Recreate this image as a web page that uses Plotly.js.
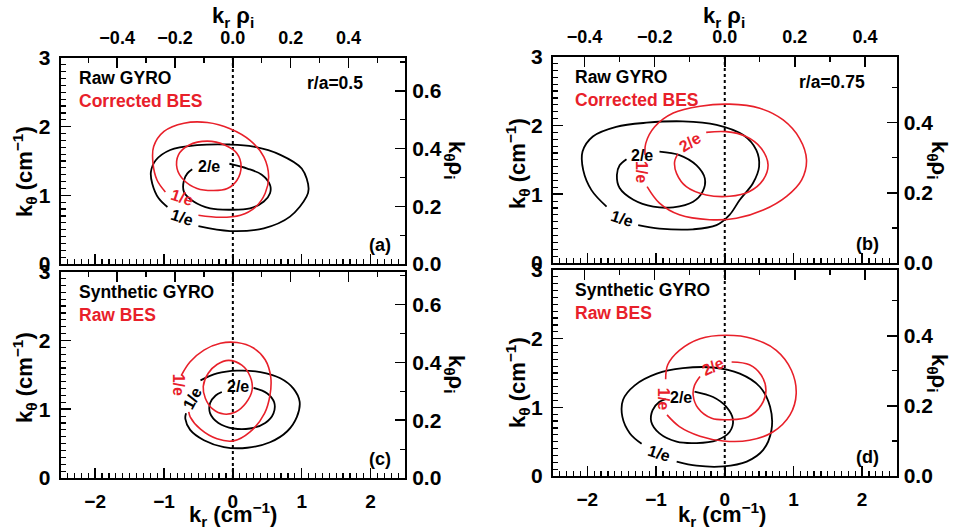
<!DOCTYPE html>
<html>
<head>
<meta charset="utf-8">
<script src="https://cdn.plot.ly/plotly-3.0.1.min.js"></script>
<style>
html,body{margin:0;padding:0;background:#fff;}
#chart{width:953px;height:531px;}
#chart text, #chart tspan{font-weight:bold !important;}
</style>
</head>
<body>
<div id="chart"></div>
<script>
// ---------------- data ----------------
// kr, ktheta in cm^-1
// Panel (a): r/a = 0.5, Raw GYRO (black) vs Corrected BES (red)
const a_gyro1_x = [-0.50,-0.04,0.45,0.83,1.07,1.10,1.00,0.69,0.30,-0.04,-0.52,-0.91,-1.12,-1.19,-1.17,-1.08,-0.95];
const a_gyro1_y = [0.55,0.48,0.52,0.69,0.98,1.10,1.39,1.59,1.71,1.74,1.73,1.66,1.51,1.34,1.17,0.96,0.83];
const a_gyro2_x = [-0.05,0.21,0.42,0.54,0.54,0.45,0.25,-0.04,-0.33,-0.57,-0.71,-0.71,-0.66,-0.59];
const a_gyro2_y = [1.46,1.39,1.30,1.15,1.03,0.91,0.81,0.79,0.81,0.91,1.05,1.22,1.32,1.38];
const a_bes1_x = [-0.50,-0.18,0.11,0.33,0.47,0.52,0.45,0.25,-0.04,-0.37,-0.71,-1.00,-1.15,-1.16,-1.10,-0.98];
const a_bes1_y = [0.71,0.68,0.71,0.83,1.03,1.27,1.56,1.80,1.97,2.06,2.05,1.93,1.71,1.47,1.22,1.05];
const a_bes2_x = [-0.37,-0.11,0.06,0.12,0.06,-0.08,-0.28,-0.52,-0.71,-0.81,-0.79,-0.64,-0.37];
const a_bes2_y = [1.79,1.73,1.61,1.42,1.22,1.10,1.07,1.10,1.22,1.39,1.59,1.73,1.79];

// Panel (b): r/a = 0.75
const b_gyro1_x = [-1.26,-0.95,-0.46,-0.12,0.07,0.22,0.41,0.50,0.46,0.27,-0.12,-0.61,-1.14,-1.58,-1.92,-2.07,-2.06,-1.94,-1.72];
const b_gyro1_y = [0.55,0.50,0.49,0.55,0.70,0.92,1.16,1.40,1.64,1.86,2.01,2.06,2.04,1.98,1.84,1.62,1.35,1.06,0.82];
const b_gyro2_x = [-0.95,-0.66,-0.41,-0.29,-0.32,-0.46,-0.75,-1.04,-1.33,-1.53,-1.57,-1.53,-1.43];
const b_gyro2_y = [1.62,1.57,1.42,1.23,1.04,0.89,0.81,0.82,0.92,1.09,1.28,1.42,1.51];
const b_bes1_x = [-1.13,-0.95,-0.66,-0.22,0.17,0.56,0.90,1.12,1.19,1.09,0.85,0.51,0.07,-0.36,-0.75,-1.02,-1.15,-1.16];
const b_bes1_y = [1.11,0.87,0.70,0.63,0.65,0.77,0.97,1.21,1.50,1.81,2.08,2.25,2.31,2.28,2.18,1.98,1.74,1.57];
const b_bes2_x = [-0.27,0.02,0.31,0.53,0.63,0.56,0.36,0.07,-0.27,-0.56,-0.70,-0.73,-0.68];
const b_bes2_y = [1.90,1.91,1.84,1.67,1.43,1.21,1.04,0.97,0.99,1.11,1.30,1.47,1.59];

// Panel (c): Synthetic GYRO (black) vs Raw BES (red), r/a = 0.5
const c_gyro1_x = [-0.47,-0.23,0.06,0.40,0.69,0.88,0.97,0.93,0.79,0.54,0.21,-0.13,-0.42,-0.62,-0.69,-0.68];
const c_gyro1_y = [1.42,1.52,1.56,1.54,1.45,1.30,1.11,0.89,0.68,0.52,0.44,0.45,0.55,0.70,0.86,0.94];
const c_gyro2_x = [0.30,0.50,0.60,0.59,0.47,0.25,0.01,-0.21,-0.33,-0.33,-0.25,-0.16];
const c_gyro2_y = [1.31,1.23,1.10,0.94,0.80,0.72,0.72,0.80,0.94,1.09,1.20,1.25];
const c_bes1_x = [-0.75,-0.62,-0.42,-0.18,0.06,0.30,0.47,0.55,0.54,0.46,0.25,0.01,-0.23,-0.47,-0.62,-0.64];
const c_bes1_y = [1.49,1.69,1.86,1.96,1.97,1.89,1.72,1.47,1.21,0.94,0.67,0.54,0.57,0.71,0.89,0.96];
const c_bes2_x = [-0.06,0.13,0.25,0.28,0.19,0.04,-0.13,-0.29,-0.40,-0.43,-0.36,-0.23,-0.06];
const c_bes2_y = [1.71,1.64,1.48,1.28,1.09,0.96,0.93,1.00,1.16,1.33,1.52,1.65,1.71];

// Panel (d): r/a = 0.75
const d_gyro1_x = [-0.70,-0.41,-0.02,0.32,0.56,0.68,0.66,0.51,0.22,-0.17,-0.61,-0.99,-1.31,-1.48,-1.49,-1.38,-1.21];
const d_gyro1_y = [0.21,0.15,0.14,0.21,0.38,0.67,1.01,1.30,1.49,1.58,1.57,1.49,1.32,1.11,0.86,0.62,0.47];
const d_gyro2_x = [-0.44,-0.17,0.02,0.12,0.07,-0.12,-0.41,-0.70,-0.95,-1.07,-1.05,-0.95,-0.86];
const d_gyro2_y = [1.23,1.15,1.01,0.82,0.64,0.52,0.48,0.50,0.62,0.79,0.96,1.08,1.12];
const d_bes1_x = [-0.84,-0.66,-0.36,-0.02,0.36,0.70,0.95,1.04,0.97,0.75,0.41,0.02,-0.36,-0.66,-0.83,-0.86];
const d_bes1_y = [0.89,0.72,0.58,0.51,0.52,0.64,0.89,1.20,1.54,1.83,2.00,2.05,2.00,1.83,1.62,1.41];
const d_bes2_x = [0.10,0.36,0.53,0.60,0.53,0.34,0.07,-0.19,-0.39,-0.46,-0.44,-0.36];
const d_bes2_y = [1.66,1.62,1.47,1.25,1.03,0.86,0.82,0.84,0.99,1.18,1.32,1.45];

// rho_i (cm) used for secondary axes
const rho_values = [0.238, 0.196, 0.238, 0.196];

// contour labels: text, x, y (data coords)
const a_lab_text = ['2/e','1/e','1/e'];
const a_lab_x = [-0.35,-0.74,-0.74];
const a_lab_y = [1.42,0.97,0.68];
const b_lab_text = ['2/e','1/e','1/e','2/e'];
const b_lab_x = [-1.21,-1.50,-1.21,-0.51];
const b_lab_y = [1.57,0.65,1.33,1.75];
const c_lab_text = ['2/e','1/e','1/e'];
const c_lab_x = [0.08,-0.59,-0.79];
const c_lab_y = [1.33,1.16,1.35];
const d_lab_text = ['2/e','1/e','1/e','2/e'];
const d_lab_x = [-0.63,-0.95,-0.89,-0.17];
const d_lab_y = [1.15,0.33,1.13,1.59];

// panel texts
const legend_black = ['Raw GYRO','Raw GYRO','Synthetic GYRO','Synthetic GYRO'];
const legend_red = ['Corrected BES','Corrected BES','Raw BES','Raw BES'];
const radius_text = ['r/a=0.5','r/a=0.75','',''];
const panel_tags = ['(a)','(b)','(c)','(d)'];

const zero_x = [0, 0];
const zero_y = [0, 3];

// ---------------- drawing ----------------
const RED = '#e8202a';
const FONT = 'Liberation Sans, Arial, Helvetica, sans-serif';
const W = 953, H = 531;

// panel frames in pixels [left, right, top, bottom]
const frames = [
  [60.7, 405, 58, 264],
  [553, 896.5, 56.7, 263],
  [60.7, 405, 271.7, 478],
  [553, 896.5, 270, 476]
];

const ids = ['', '2', '3', '4'];
const topIds = ['5', '6', '7', '8'];

const panels = [
  {g1:[a_gyro1_x,a_gyro1_y], g2:[a_gyro2_x,a_gyro2_y], b1:[a_bes1_x,a_bes1_y], b2:[a_bes2_x,a_bes2_y],
   lt:a_lab_text, lx:a_lab_x, ly:a_lab_y, lc:['k','r','k'], la:[0,18,18]},
  {g1:[b_gyro1_x,b_gyro1_y], g2:[b_gyro2_x,b_gyro2_y], b1:[b_bes1_x,b_bes1_y], b2:[b_bes2_x,b_bes2_y],
   lt:b_lab_text, lx:b_lab_x, ly:b_lab_y, lc:['k','k','r','r'], la:[0,18,90,-32]},
  {g1:[c_gyro1_x,c_gyro1_y], g2:[c_gyro2_x,c_gyro2_y], b1:[c_bes1_x,c_bes1_y], b2:[c_bes2_x,c_bes2_y],
   lt:c_lab_text, lx:c_lab_x, ly:c_lab_y, lc:['k','k','r'], la:[0,-62,90]},
  {g1:[d_gyro1_x,d_gyro1_y], g2:[d_gyro2_x,d_gyro2_y], b1:[d_bes1_x,d_bes1_y], b2:[d_bes2_x,d_bes2_y],
   lt:d_lab_text, lx:d_lab_x, ly:d_lab_y, lc:['k','k','r','r'], la:[0,18,90,-25]}
];

const traces = [];
const annotations = [];
const layout = {
  width: W, height: H,
  margin: {l:0, r:0, t:0, b:0},
  paper_bgcolor: '#fff', plot_bgcolor: 'rgba(0,0,0,0)',
  showlegend: false,
  font: {family: FONT, color: '#000', weight: 'bold'},
  annotations: annotations
};

function curve(xy, color, width, xa, ya) {
  return {type:'scatter', mode:'lines', x: xy[0], y: xy[1], xaxis: xa, yaxis: ya,
    line: {color: color, width: width, shape: 'spline', smoothing: 1}, hoverinfo: 'skip'};
}

function axisCommon(fontSize) {
  return {
    ticks: 'inside', ticklen: 10, tickwidth: 1.5, tickcolor: '#000',
    showline: true, linewidth: 2, linecolor: '#000',
    showgrid: false, zeroline: false, fixedrange: true,
    tickfont: {family: FONT, size: fontSize, color: '#000', weight: 'bold'},
    ticklabelstandoff: 3
  };
}

panels.forEach((p, i) => {
  const f = frames[i];
  const xd = [f[0]/W, f[1]/W];
  const yd = [1 - f[3]/H, 1 - f[2]/H];
  const xa = 'x' + ids[i], ya = 'y' + ids[i];
  const xt = 'x' + topIds[i], yr = 'y' + topIds[i];
  const rho = rho_values[i];
  const isTop = i < 2;

  layout['xaxis' + ids[i]] = Object.assign(axisCommon(19), {
    domain: xd, anchor: ya, range: [-2.5, 2.5], dtick: 1, tick0: 0,
    minor: {ticks: 'inside', ticklen: 5, dtick: 0.1, tickwidth: 1.2, tickcolor: '#000', showgrid: false},
    showticklabels: !isTop, ticklabelstandoff: 5
  });
  layout['yaxis' + ids[i]] = Object.assign(axisCommon(21), {
    domain: yd, anchor: xa, range: [0, 3], dtick: 1, tick0: 0,
    minor: {ticks: 'inside', ticklen: 5, dtick: 0.1, tickwidth: 1.2, tickcolor: '#000', showgrid: false},
    ticklabelstandoff: 4
  });
  layout['xaxis' + topIds[i]] = Object.assign(axisCommon(18), {
    overlaying: xa, anchor: ya, side: 'top', range: [-2.5*rho, 2.5*rho], dtick: 0.2, tick0: 0,
    tickformat: '.1f',
    minor: {ticks: 'inside', ticklen: 5, dtick: 0.1, tickwidth: 1.2, tickcolor: '#000', showgrid: false},
    showticklabels: isTop, ticklabelstandoff: 5
  });
  layout['yaxis' + topIds[i]] = Object.assign(axisCommon(21), {
    overlaying: ya, anchor: xa, side: 'right', range: [0, 3*rho], dtick: 0.2, tick0: 0,
    tickformat: '.1f',
    minor: {ticks: 'inside', ticklen: 5, dtick: 0.1, tickwidth: 1.2, tickcolor: '#000', showgrid: false},
    ticklabelstandoff: 1
  });

  // hidden traces to bind the secondary axes
  traces.push({type:'scatter', mode:'lines', x:[], y:[], xaxis: xt, yaxis: ya, hoverinfo:'skip'});
  traces.push({type:'scatter', mode:'lines', x:[], y:[], xaxis: xa, yaxis: yr, hoverinfo:'skip'});

  // dotted kr = 0 line
  traces.push({type:'scatter', mode:'lines', x: zero_x, y: zero_y, xaxis: xa, yaxis: ya,
    line: {color:'#000', width: 2, dash: 'dot'}, hoverinfo:'skip'});

  traces.push(curve(p.g1, '#000', 1.8, xa, ya));
  traces.push(curve(p.g2, '#000', 1.8, xa, ya));
  traces.push(curve(p.b1, RED, 1.6, xa, ya));
  traces.push(curve(p.b2, RED, 1.6, xa, ya));

  // contour labels
  p.lt.forEach((t, k) => {
    annotations.push({xref: xa, yref: ya, x: p.lx[k], y: p.ly[k], text: '<b>' + t + '</b>', showarrow: false,
      textangle: p.la[k], xanchor: 'center', yanchor: 'middle',
      font: {family: FONT, size: 16, weight: 'bold', color: p.lc[k] === 'r' ? RED : '#000'}});
  });

  // panel texts (placed in panel data coordinates)
  const left = (i % 2 === 0) ? -2.27 : -2.21;
  annotations.push({xref: xa, yref: ya, x: left, y: 2.71, text: '<b>' + legend_black[i] + '</b>', showarrow: false,
    xanchor: 'left', yanchor: 'middle', font: {family: FONT, size: 17.5, weight: 'bold', color: '#000'}});
  annotations.push({xref: xa, yref: ya, x: left, y: 2.37, text: '<b>' + legend_red[i] + '</b>', showarrow: false,
    xanchor: 'left', yanchor: 'middle', font: {family: FONT, size: 17.5, weight: 'bold', color: RED}});
  if (radius_text[i]) {
    annotations.push({xref: xa, yref: ya, x: i === 0 ? 1.92 : 2.07, y: 2.63, text: '<b>' + radius_text[i] + '</b>', showarrow: false,
      xanchor: 'right', yanchor: 'middle', font: {family: FONT, size: 17.5, weight: 'bold', color: '#000'}});
  }
  annotations.push({xref: xa, yref: ya, x: (i % 2 === 0) ? 2.32 : 2.27, y: (i < 2) ? 0.28 : 0.27, text: '<b>' + panel_tags[i] + '</b>', showarrow: false,
    xanchor: 'right', yanchor: 'middle', font: {family: FONT, size: 18, weight: 'bold', color: '#000'}});
});

// axis titles (paper coordinates from pixel positions)
function paperTitle(px, py, text, angle) {
  annotations.push({xref:'paper', yref:'paper', x: px/W, y: 1 - py/H, text: '<b>' + text + '</b>', showarrow: false,
    textangle: angle, xanchor: 'center', yanchor: 'middle',
    font: {family: FONT, size: 22, weight: 'bold', color: '#000'}});
}
const ktheta = 'k<sub>θ</sub> (cm<sup>−1</sup>)';
const kr = 'k<sub>r</sub> (cm<sup>−1</sup>)';
const krrho = 'k<sub>r</sub> ρ<sub>i</sub>';
const ktrho = 'k<sub>θ</sub>ρ<sub>i</sub>';
paperTitle(24, 172, ktheta, -90);
paperTitle(24, 378, ktheta, -90);
paperTitle(517, 164, ktheta, -90);
paperTitle(517, 383, ktheta, -90);
paperTitle(233, 514, kr, 0);
paperTitle(722, 514, kr, 0);
paperTitle(233, 17, krrho, 0);
paperTitle(724, 17, krrho, 0);
paperTitle(455, 160, ktrho, 90);
paperTitle(455, 374, ktrho, 90);
paperTitle(938, 160, ktrho, 90);
paperTitle(938, 373, ktrho, 90);

Plotly.newPlot('chart', traces, layout, {staticPlot: true, displayModeBar: false});
</script>
</body>
</html>
